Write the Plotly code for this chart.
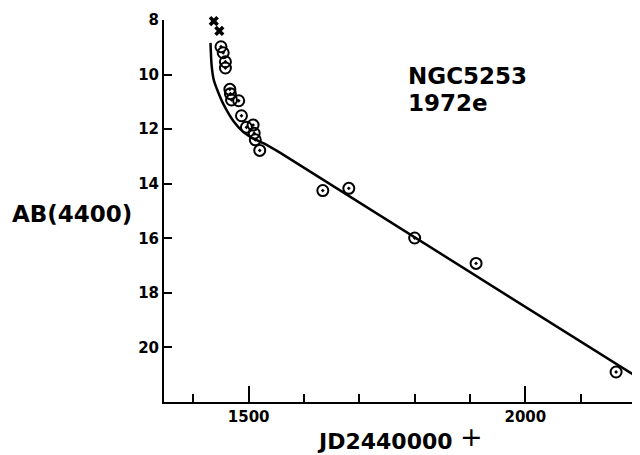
import plotly.graph_objects as go

# Observations (JD - 2440000, AB(4400) magnitude)
obs_jd = [1450, 1454, 1458, 1458, 1466, 1467, 1469, 1482, 1487, 1496, 1508,
          1510, 1512, 1520, 1634, 1681, 1800, 1911, 2164]
obs_mag = [8.98, 9.20, 9.53, 9.76, 10.54, 10.70, 10.93, 10.96, 11.51, 11.93, 11.85,
           12.15, 12.39, 12.78, 14.25, 14.17, 15.99, 16.92, 20.90]

# Early points plotted as crosses
cross_jd = [1437, 1447]
cross_mag = [8.04, 8.40]

# Drawn light-curve
curve_jd = [1431, 1433, 1437, 1444, 1456, 1473, 1490, 1507, 1530, 1558, 2204]
curve_mag = [8.84, 9.65, 10.2, 10.6, 11.15, 11.72, 12.1, 12.33, 12.55, 12.88, 21.11]

x_major = [1500, 2000]
y_ticks = [8, 10, 12, 14, 16, 18, 20]

FONT = "DejaVu Sans"

# plot area in window pixels: x 164..636, y 20..402 (page has 8px body margin)
def px(x):
    return (x - 164) / 472

def py(y):
    return 1 - (y - 20) / 382

fig = go.Figure()
fig.add_trace(go.Scatter(x=curve_jd, y=curve_mag, mode="lines",
                         line=dict(color="black", width=2.5, shape="spline", smoothing=0.6),
                         hoverinfo="skip"))
fig.add_trace(go.Scatter(x=obs_jd, y=obs_mag, mode="markers", cliponaxis=False,
                         marker=dict(symbol="circle-open-dot", size=11, color="black",
                                     line=dict(width=2, color="black"))))
fig.add_trace(go.Scatter(x=cross_jd, y=cross_mag, mode="markers", cliponaxis=False,
                         marker=dict(symbol="x", size=9, color="black",
                                     line=dict(width=0))))

fig.update_layout(
    width=632, height=447,
    margin=dict(l=156, r=4, t=12, b=53),
    paper_bgcolor="white", plot_bgcolor="white",
    showlegend=False,
    font=dict(family=FONT, color="black"),
    xaxis=dict(range=[1347, 2200], showgrid=False, zeroline=False,
               showline=True, linecolor="black", linewidth=2,
               ticks="inside", ticklen=16, tickwidth=2, tickcolor="black",
               tickvals=x_major, ticktext=["<b>%d</b>" % v for v in x_major],
               tickfont=dict(family=FONT, size=15, color="black"),
               minor=dict(ticks="inside", ticklen=8, tickwidth=2, tickcolor="black",
                          dtick=100, tick0=1400, showgrid=False)),
    yaxis=dict(range=[22, 8], showgrid=False, zeroline=False,
               showline=True, linecolor="black", linewidth=2,
               ticks="inside", ticklen=8, tickwidth=2, tickcolor="black",
               tickvals=y_ticks, ticktext=["<b>%d</b>" % v for v in y_ticks],
               tickfont=dict(family=FONT, size=15, color="black")),
    annotations=[
        dict(text="<b>NGC5253</b>", xref="paper", yref="paper", x=px(406), y=py(76),
             xanchor="left", yanchor="middle", showarrow=False, font=dict(size=23)),
        dict(text="<b>1972e</b>", xref="paper", yref="paper", x=px(406), y=py(103),
             xanchor="left", yanchor="middle", showarrow=False, font=dict(size=23)),
        dict(text="<b>AB(4400)</b>", xref="paper", yref="paper", x=px(72), y=py(214),
             xanchor="center", yanchor="middle", showarrow=False, font=dict(size=23)),
        dict(text="<b>JD2440000</b>", xref="paper", yref="paper", x=px(385), y=py(441),
             xanchor="center", yanchor="middle", showarrow=False, borderpad=0,
             font=dict(size=22)),
        dict(text="+", xref="paper", yref="paper", x=px(471), y=py(436),
             xanchor="center", yanchor="middle", showarrow=False, borderpad=0,
             font=dict(size=27)),
    ],
)

fig.write_html("out.html")
